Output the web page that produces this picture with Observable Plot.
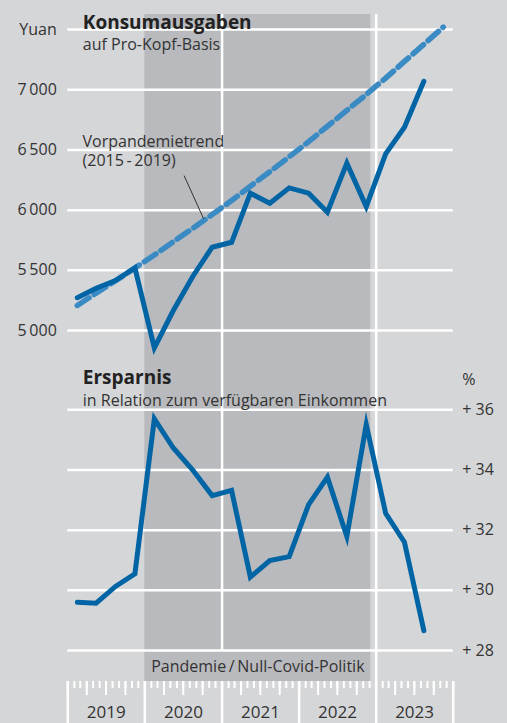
<!DOCTYPE html>
<html><head><meta charset="utf-8">
<script src="https://cdn.jsdelivr.net/npm/d3@7"></script>
<script src="https://cdn.jsdelivr.net/npm/@observablehq/plot@0.6"></script>
<style>
html,body{margin:0;padding:0;background:#d5d6d8;}
#chart{width:507px;height:723px;background:#d5d6d8;overflow:hidden;}
#chart svg{display:block;}
</style></head>
<body><div id="chart"></div>
<script>
// ---- data ----
const quarters = ["2019-02-15","2019-05-15","2019-08-15","2019-11-15",
  "2020-02-15","2020-05-15","2020-08-15","2020-11-15",
  "2021-02-15","2021-05-15","2021-08-15","2021-11-15",
  "2022-02-15","2022-05-15","2022-08-15","2022-11-15",
  "2023-02-15","2023-05-15","2023-08-15"];
const consumption = [5272, 5351, 5415, 5521, 4856, 5166, 5449, 5692, 5733, 6141,
  6057, 6185, 6141, 5983, 6390, 6030, 6468, 6689, 7071];
const trendQuarters = [...quarters, "2023-11-15"];
const trend = [5208, 5310, 5413, 5519, 5627, 5737, 5849, 5963, 6080, 6198,
  6319, 6443, 6569, 6697, 6828, 6961, 7097, 7236, 7377, 7521];
const saving = [29.60, 29.57, 30.13, 30.55, 35.70, 34.73, 34.00, 33.15, 33.32, 30.44,
  30.99, 31.12, 32.85, 33.76, 31.79, 35.51, 32.56, 31.60, 28.66];
const yuanTicks = [5000, 5500, 6000, 6500, 7000, 7500];
const pctTicks = [28, 30, 32, 34, 36];
const years = [2019, 2020, 2021, 2022, 2023];
const gridYears = [2021, 2023];
const pandemic = ["2020-01-01", "2022-12-07"];

// ---- texts ----
const topTitle = "Konsumausgaben";
const topSub = "auf Pro-Kopf-Basis";
const botTitle = "Ersparnis";
const botSub = "in Relation zum verfügbaren Einkommen";
const trendLabel1 = "Vorpandemietrend";
const trendLabel2 = "(2015\u2009-\u20092019)";
const pandemicLabel = "Pandemie\u2009/\u2009Null-Covid-Politik";

// ---- derived tables ----
const D = s => new Date(s);
const consRows = quarters.map((q, i) => ({date: D(q), value: consumption[i]}));
const trendRows = trendQuarters.map((q, i) => ({date: D(q), value: trend[i]}));
const saveRows = quarters.map((q, i) => ({date: D(q), value: saving[i]}));
const pandemicRow = [{start: D(pandemic[0]), end: D(pandemic[1])}];
const gridDates = gridYears.map(y => new Date(Date.UTC(y, 0, 1)));
const xDomain = [new Date(Date.UTC(years[0], 0, 1)), new Date(Date.UTC(years[years.length - 1] + 1, 0, 1))];
const months = d3.utcMonth.range(xDomain[0], d3.utcDay.offset(xDomain[1], 1));
const quarterStarts = months.filter(d => d.getUTCMonth() % 3 === 0);
const yearStarts = months.filter(d => d.getUTCMonth() === 0);
const midYears = years.map(y => new Date(Date.UTC(y, 6, 2)));
const pandemicMid = new Date((+D(pandemic[0]) + +D(pandemic[1])) / 2);

const FONT = "'Open Sans', sans-serif";
const TXT = "#333";
const BLUE = "#0064a5";
const TREND = "#3a8ac4";
const SHADE = "#b9babd";

const common = {
  width: 507, marginLeft: 67.3, marginRight: 54.3,
  x: {type: "utc", domain: xDomain, label: null, axis: null},
  style: {background: "transparent", fontFamily: FONT, fontSize: "16px", color: TXT}
};
const gridStyle = {stroke: "white", strokeWidth: 2.5};
const fmtYuan = d => d === 7500 ? "Yuan" : d3.format(",")(d).replace(",", "\u2009");

const topPlot = Plot.plot({
  ...common,
  height: 355, marginTop: 14, marginBottom: 0,
  y: {domain: [5000, 7500], range: [330, 29.1], label: null},
  marks: [
    Plot.rect(pandemicRow, {x1: "start", x2: "end", fill: SHADE}),
    Plot.ruleY(yuanTicks, {...gridStyle, ariaLabel: "grid"}),
    Plot.ruleX(gridDates, {...gridStyle, ariaLabel: "grid"}),
    Plot.axisY(yuanTicks, {tickSize: 0, tickPadding: 11, tickFormat: fmtYuan, fontSize: 16, color: TXT, label: null}),
    Plot.line(trendRows, {x: "date", y: "value", stroke: TREND, strokeWidth: 5.5, strokeDasharray: "14,6"}),
    Plot.line(consRows, {x: "date", y: "value", stroke: BLUE, strokeWidth: 5, strokeLinejoin: "miter", strokeMiterlimit: 10}),
    Plot.link([{x1: D("2020-07-05"), y1: 6287, x2: D("2020-10-05"), y2: 5930}],
      {x1: "x1", y1: "y1", x2: "x2", y2: "y2", stroke: TXT, strokeWidth: 1}),
    Plot.text([trendLabel1], {x: () => D("2019-03-12"), y: () => 6564, text: d => d, textAnchor: "start",
      lineAnchor: "middle", fontSize: 16, fill: TXT, ariaLabel: "knockout-small"}),
    Plot.text([trendLabel2], {x: () => D("2019-03-12"), y: () => 6412, text: d => d, textAnchor: "start",
      lineAnchor: "middle", fontSize: 16, fill: TXT, ariaLabel: "knockout-small"}),
    Plot.text([topTitle], {frameAnchor: "top-left", text: d => d, textAnchor: "start", lineAnchor: "top",
      dx: 15, dy: 0.8, fontSize: 19, fontWeight: "bold", fill: "#222", ariaLabel: "knockout"}),
    Plot.text([topSub], {frameAnchor: "top-left", text: d => d, textAnchor: "start", lineAnchor: "top",
      dx: 15, dy: 24.6, fontSize: 16, fill: TXT, ariaLabel: "knockout"})
  ]
});

const botPlot = Plot.plot({
  ...common,
  height: 368, marginTop: 0, marginBottom: 42,
  y: {domain: [28, 36], range: [295, 54.3], label: null},
  marks: [
    Plot.rect(pandemicRow, {x1: "start", x2: "end", fill: SHADE}),
    Plot.ruleY(pctTicks, {...gridStyle, ariaLabel: "grid"}),
    Plot.ruleX(gridDates.filter(d => d.getUTCFullYear() === 2021), {...gridStyle, y1: 28, y2: 38, ariaLabel: "grid"}),
    Plot.ruleX(gridDates.filter(d => d.getUTCFullYear() === 2023), {...gridStyle, ariaLabel: "grid"}),
    Plot.axisY([...pctTicks, 37], {anchor: "right", tickSize: 0, tickPadding: 9, textAnchor: "start",
      tickFormat: d => d === 37 ? "%" : "+ " + d, fontSize: 16, color: TXT, label: null}),
    Plot.line(saveRows, {x: "date", y: "value", stroke: BLUE, strokeWidth: 5, strokeLinejoin: "miter", strokeMiterlimit: 10}),
    Plot.text([botTitle], {frameAnchor: "top-left", text: d => d, textAnchor: "start", lineAnchor: "top",
      dx: 15, dy: 14.5, fontSize: 19, fontWeight: "bold", fill: "#222", ariaLabel: "knockout"}),
    Plot.text([botSub], {frameAnchor: "top-left", text: d => d, textAnchor: "start", lineAnchor: "top",
      dx: 15, dy: 39.6, fontSize: 16, fill: TXT, ariaLabel: "knockout"}),
    Plot.text([pandemicLabel], {x: () => pandemicMid, frameAnchor: "bottom", text: d => d, lineAnchor: "middle",
      dy: -14.3, fontSize: 16, fill: TXT}),
    Plot.axisX(months, {tickSize: 7, tickFormat: () => "", color: "white", stroke: "white", strokeWidth: 2, label: null}),
    Plot.axisX(quarterStarts, {tickSize: 14, tickFormat: () => "", color: "white", stroke: "white", strokeWidth: 2, label: null}),
    Plot.axisX(yearStarts, {tickSize: 42, tickFormat: () => "", color: "white", stroke: "white", strokeWidth: 2.5, label: null}),
    Plot.axisX(midYears, {tickSize: 0, tickPadding: 24.6, tickFormat: d3.utcFormat("%Y"), fontSize: 17, color: TXT, label: null})
  ]
});

const chart = document.getElementById("chart");
chart.appendChild(topPlot);
chart.appendChild(botPlot);

function knockout(svg, id) {
  const ns = "http://www.w3.org/2000/svg";
  const W = +svg.getAttribute("width"), H = +svg.getAttribute("height");
  const box = svg.getBoundingClientRect();
  const defs = document.createElementNS(ns, "defs");
  const mask = document.createElementNS(ns, "mask");
  mask.setAttribute("id", id);
  mask.setAttribute("maskUnits", "userSpaceOnUse");
  mask.setAttribute("x", 0); mask.setAttribute("y", 0);
  mask.setAttribute("width", W); mask.setAttribute("height", H);
  const bg = document.createElementNS(ns, "rect");
  bg.setAttribute("x", 0); bg.setAttribute("y", 0);
  bg.setAttribute("width", W); bg.setAttribute("height", H);
  bg.setAttribute("fill", "white");
  mask.appendChild(bg);
  for (const [label, px, py] of [["knockout", 7, 6], ["knockout-small", 4, 1]]) {
    svg.querySelectorAll(`g[aria-label="${label}"] text`).forEach(t => {
      const r = t.getBoundingClientRect();
      const k = document.createElementNS(ns, "rect");
      k.setAttribute("x", r.left - box.left - px);
      k.setAttribute("y", r.top - box.top - py);
      k.setAttribute("width", r.width + 2 * px);
      k.setAttribute("height", r.height + 2 * py);
      k.setAttribute("fill", "black");
      mask.appendChild(k);
    });
  }
  defs.appendChild(mask);
  svg.insertBefore(defs, svg.firstChild);
  svg.querySelectorAll('g[aria-label="grid"]').forEach(g => g.setAttribute("mask", `url(#${id})`));
}
knockout(topPlot, "ko-top");
knockout(botPlot, "ko-bot");
</script>
</body></html>
